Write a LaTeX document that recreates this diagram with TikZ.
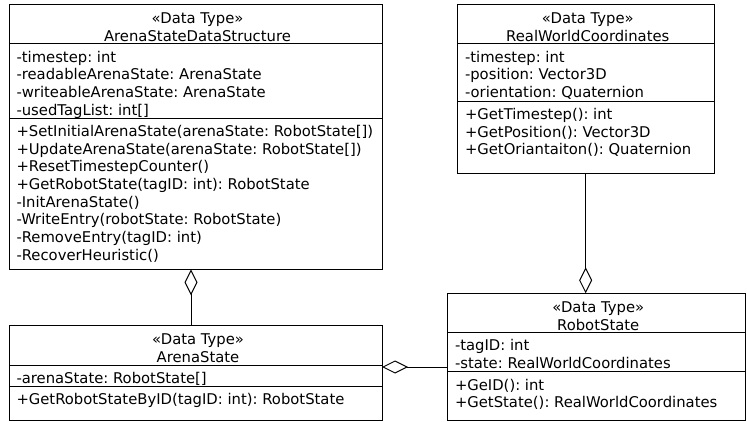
\documentclass[tikz,border=0pt]{standalone}
\usepackage{fontspec}
\setmainfont{DejaVu Sans}
\usetikzlibrary{arrows.meta}
\frenchspacing
\newcommand\umlrows[4]{\foreach \rowtext [count=\i] in {#4} {\node[txt] (#1\i) at ({#2},{#3+17.6*(\i-1)}) {\rowtext};}}
\begin{document}
\begin{tikzpicture}[x=1pt,y=-1pt,
  box/.style={draw, line width=1pt, inner sep=0pt, outer sep=0pt, anchor=north west},
  txt/.style={anchor=base west, inner sep=0pt, outer sep=0pt, font=\fontsize{14.8}{17}\selectfont},
  ttl/.style={anchor=base, inner sep=0pt, outer sep=0pt, font=\fontsize{14.8}{17}\selectfont},
  sep/.style={line width=1pt},
  agg/.style={line width=1pt, {Diamond[open,length=26pt,width=13pt]}-},
  aggend/.style={line width=1pt, -{Diamond[open,length=26pt,width=13pt]}}]
\useasboundingbox[fill=white] (0,0) rectangle (747,422);

% ---- ArenaStateDataStructure
\node[box, minimum width=373pt, minimum height=264.6pt] (A) at (9,4.7) {};
\node[ttl] (At1) at (197.5,23.9) {«Data Type»};
\node[ttl] (At2) at (197.5,41.5) {ArenaStateDataStructure};
\draw[sep] (A.west |- 0,44) -- (A.east |- 0,44);
\umlrows{Aa}{16.5}{62.3}{{-timestep: int},{-readableArenaState: ArenaState},{-writeableArenaState: ArenaState},{-usedTagList: int[]}}
\draw[sep] (A.west |- 0,118.3) -- (A.east |- 0,118.3);
\umlrows{Am}{16.5}{136.8}{{+SetInitialArenaState(arenaState: RobotState[])},{+UpdateArenaState(arenaState: RobotState[])},{+ResetTimestepCounter()},{+GetRobotState(tagID: int): RobotState},{-InitArenaState()},{-WriteEntry(robotState: RobotState)},{-RemoveEntry(tagID: int)},{-RecoverHeuristic()}}

% ---- ArenaState
\node[box, minimum width=373pt, minimum height=94.3pt] (B) at (9,325.7) {};
\node[ttl] (Bt1) at (198,344.9) {«Data Type»};
\node[ttl] (Bt2) at (198,362.5) {ArenaState};
\draw[sep] (B.west |- 0,365) -- (B.east |- 0,365);
\umlrows{Ba}{16.5}{383.3}{{-arenaState: RobotState[]}}
\draw[sep] (B.west |- 0,386.3) -- (B.east |- 0,386.3);
\umlrows{Bm}{16.5}{404.8}{{+GetRobotStateByID(tagID: int): RobotState}}

% ---- RealWorldCoordinates
\node[box, minimum width=256.7pt, minimum height=168.6pt] (C) at (457.3,4.7) {};
\node[ttl] (Ct1) at (587.8,23.9) {«Data Type»};
\node[ttl] (Ct2) at (587.8,41.5) {RealWorldCoordinates};
\draw[sep] (C.west |- 0,44) -- (C.east |- 0,44);
\umlrows{Ca}{465}{62.3}{{-timestep: int},{-position: Vector3D},{-orientation: Quaternion}}
\draw[sep] (C.west |- 0,101.7) -- (C.east |- 0,101.7);
\umlrows{Cm}{465}{119.7}{{+GetTimestep(): int},{+GetPosition(): Vector3D},{+GetOriantaiton(): Quaternion}}

% ---- RobotState
\node[box, minimum width=297.7pt, minimum height=126.7pt] (D) at (447.3,293.3) {};
\node[ttl] (Dt1) at (598.2,312.5) {«Data Type»};
\node[ttl] (Dt2) at (598.2,330.1) {RobotState};
\draw[sep] (D.west |- 0,332.6) -- (D.east |- 0,332.6);
\umlrows{Da}{455}{350.9}{{-tagID: int},{-state: RealWorldCoordinates}}
\draw[sep] (D.west |- 0,371.7) -- (D.east |- 0,371.7);
\umlrows{Dm}{455}{390.2}{{+GeID(): int},{+GetState(): RealWorldCoordinates}}

% ---- connectors
\coordinate (ab) at (191,0);
\coordinate (bd) at (0,367);
\draw[agg] (A.south -| ab) -- (B.north -| ab);
\draw[agg] (B.east |- bd) -- (D.west |- bd);
\draw[aggend] (C.south) -- (D.north -| C.south);
\end{tikzpicture}
\end{document}
